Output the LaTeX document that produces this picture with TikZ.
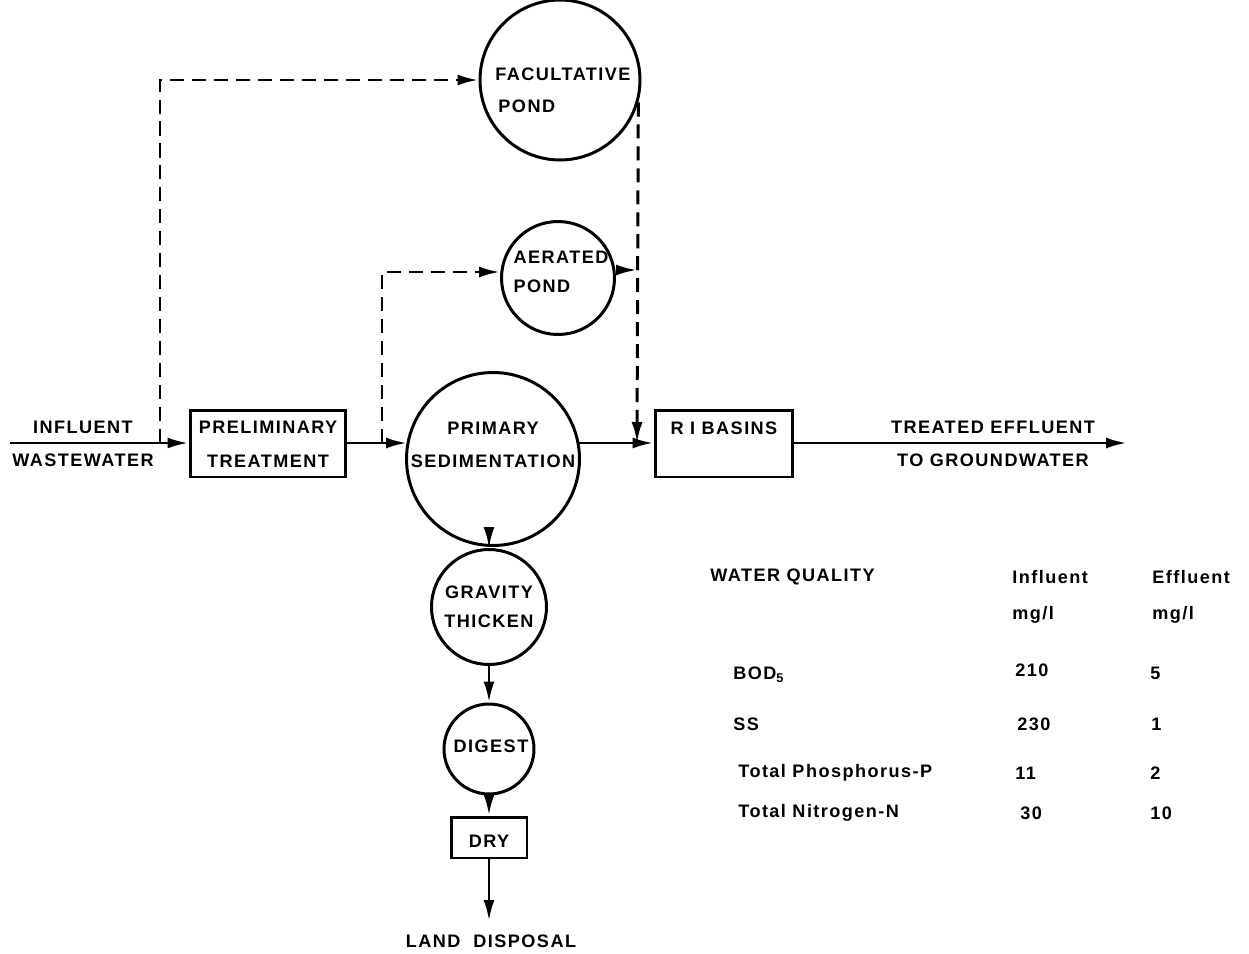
\documentclass[tikz,border=0pt]{standalone}
\usepackage{fontspec}
\setmainfont[LetterSpace=8]{Liberation Sans}
\usetikzlibrary{arrows.meta,calc}
\begin{document}
\begin{tikzpicture}[x=0.02cm,y=-0.02cm,
  flow/.style={line width=1.7pt},
  tip/.style={-{Latex[length=0.42cm,width=0.22cm]}},
  dashflow/.style={flow,dash pattern=on 8pt off 4.5pt},
  unit/.style={draw,line width=1.7pt,inner sep=0pt},
  pond/.style={unit,circle},
  tank/.style={unit,rectangle},
  lbl/.style={font=\fontsize{10.3}{12}\selectfont\bfseries,inner sep=0pt},
  tbl/.style={font=\fontsize{10.3}{12}\selectfont\bfseries,inner sep=0pt,anchor=west},
]
\useasboundingbox (0,0) rectangle (1249,954);

% process units
\node[tank,minimum width=3.12cm,minimum height=1.34cm] (prelim) at (268,443.5) {};
\node[lbl,align=center] (prelimtxt) at (268,444) {PRELIMINARY\\[2.5mm]TREATMENT};
\node[pond,minimum size=3.46cm] (prim) at (493,459) {};
\node[lbl,align=center] (primtxt) at (493,445) {PRIMARY\\[2.5mm]SEDIMENTATION};
\node[tank,minimum width=2.76cm,minimum height=1.34cm] (ri) at (724,443.5) {};
\node[lbl] (ritxt) at (724,428) {R I BASINS};
\node[pond,minimum size=3.2cm] (fac) at (560,80) {};
\node[lbl,align=left] (factxt) at (563,90) {FACULTATIVE\\[2.2mm]\,POND};
\node[pond,minimum size=2.26cm] (aer) at (558,278) {};
\node[lbl,align=left] (aertxt) at (561,272) {AERATED\\[1.5mm]POND};
\node[pond,minimum size=2.3cm] (grav) at (489,607) {};
\node[lbl,align=center] (gravtxt) at (489,607) {GRAVITY\\[1.6mm]THICKEN};
\node[pond,minimum size=1.8cm] (dig) at (489,749) {};
\node[lbl] (digtxt) at (491,746) {DIGEST};
\node[tank,minimum width=1.52cm,minimum height=0.82cm] (dry) at (489,837.5) {};
\node[lbl] (drytxt) at (489,841) {DRY};

% end labels
\node[lbl,align=center] (inf) at (83,444) {INFLUENT\\[2.5mm]WASTEWATER};
\node[lbl,align=center] (eff) at (993,444) {TREATED EFFLUENT\\[2.5mm]TO GROUNDWATER};
\node[lbl] (land) at (491,941) {LAND\ \ DISPOSAL};

% junction points
\coordinate (src) at (10,443);
\coordinate (j1) at (160,443);
\coordinate (j2) at (382,443);
\coordinate (j3) at (637,443);
\coordinate (out) at (1127,443);
\coordinate (disp) at (489,921);

% main flow
\draw[flow,tip] (src) -- (prelim.west |- src);
\draw[flow,tip] (prelim.east |- src) -- (407,443);
\draw[flow,tip] (579,443) -- (ri.west |- src);
\draw[flow,tip] (ri.east |- src) -- (out);

% pond bypasses
\draw[dashflow,tip] (j1) -- (j1 |- fac.west) -- (fac.west);
\draw[dashflow,tip] (j2) -- (j2 |- 0,272) -- (aer.west |- 0,272);
\draw[dashflow,tip] (fac.-16) -- (j3);
\draw[dashflow,tip] (aer.east |- 0,270) -- (637,270);

% sludge train
\draw[flow,tip] (489,546) -- (grav.north);
\draw[flow,tip] (grav.south) -- (dig.north);
\draw[flow,tip] (dig.south) -- (dry.north);
\draw[flow,tip] (dry.south) -- (disp);

% water quality table
\node[tbl] (wq) at (710,577) {WATER QUALITY};
\node[tbl] (hin) at (1012,577) {Influent};
\node[tbl] (hef) at (1152,577) {Effluent};
\node[tbl] (uin) at (1012,615) {mg/l};
\node[tbl] (uef) at (1152,615) {mg/l};
\node[tbl] (bod) at (733,675) {BOD\textsubscript{5}};
\node[tbl] (bodin) at (1015,670) {210};
\node[tbl] (bodef) at (1150,673) {5};
\node[tbl] (ss) at (733,724) {SS};
\node[tbl] (ssin) at (1017,724) {230};
\node[tbl] (ssef) at (1151,724) {1};
\node[tbl] (tp) at (738,773) {Total Phosphorus-P};
\node[tbl] (tpin) at (1015,773) {11};
\node[tbl] (tpef) at (1150,773) {2};
\node[tbl] (tn) at (738,813) {Total Nitrogen-N};
\node[tbl] (tnin) at (1020,813) {30};
\node[tbl] (tnef) at (1150,813) {10};
\end{tikzpicture}
\end{document}
